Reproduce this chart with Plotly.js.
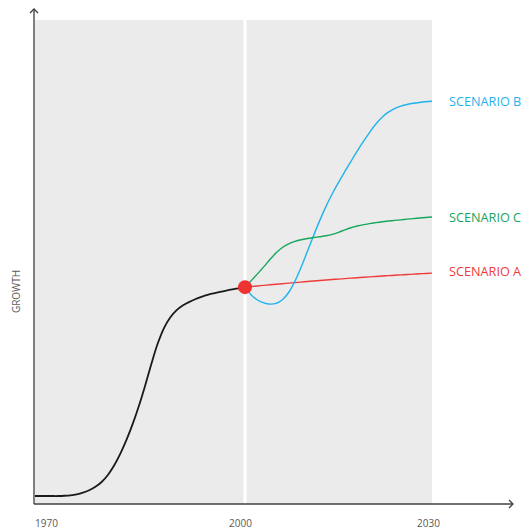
<!DOCTYPE html>
<html><head><meta charset="utf-8">
<script src="https://cdn.plot.ly/plotly-3.0.1.min.js"></script>
<style>html,body{margin:0;padding:0;background:#fff}#chart{width:531px;height:530px}</style>
</head><body><div id="chart"></div>
<script>
// ---- data ----
const histYears  = [1966,1967,1968,1969,1970,1971,1972,1973,1974,1975,1976,1977,1978,1979,1980,1981,1982,1983,1984,1985,1986,1987,1988,1989,1990,1991,1992,1993,1994,1995,1996,1997,1998,1999,2000];
const histValues = [1.65,1.65,1.65,1.65,1.65,1.70,1.80,2.00,2.35,2.85,3.55,4.55,6.00,7.95,10.40,13.30,16.60,20.35,24.55,29.05,33.15,36.35,38.55,40.00,41.00,41.72,42.30,42.78,43.20,43.54,43.84,44.11,44.35,44.57,44.8];
const scenYears  = [2000,2001,2002,2003,2004,2005,2006,2007,2008,2009,2010,2011,2012,2013,2014,2015,2016,2017,2018,2019,2020,2021,2022,2023,2024,2025,2026,2027,2028,2029,2030];
const scenarioA  = [44.8,44.93,45.05,45.17,45.29,45.41,45.52,45.63,45.74,45.85,45.96,46.07,46.17,46.27,46.37,46.47,46.56,46.66,46.75,46.84,46.93,47.01,47.10,47.18,47.26,47.34,47.41,47.49,47.56,47.63,47.70];
const scenarioB  = [44.8,43.2,42.15,41.55,41.3,41.45,42.2,43.7,46.0,48.9,52.15,55.45,58.6,61.5,64.1,66.45,68.65,70.8,72.9,74.9,76.8,78.5,79.9,80.95,81.7,82.2,82.55,82.8,82.97,83.1,83.2];
const scenarioC  = [44.8,46.15,47.55,49.0,50.5,51.9,53.0,53.75,54.25,54.6,54.85,55.05,55.23,55.43,55.71,56.13,56.63,57.08,57.43,57.71,57.93,58.13,58.31,58.46,58.59,58.71,58.85,58.97,59.08,59.2,59.3];
const scenarioNames = ['SCENARIO A','SCENARIO B','SCENARIO C'];
const tickYears  = [1970,2000,2030];
const tickLabels = ['1970','2000','2030'];
const pivotYear = 2000, pivotValue = 44.8;
const yTitle = 'GROWTH';

// ---- styles ----
const colors = ['#ef3b3b','#1fb3ee','#17a65e'];
const labelYShift = [2,0,0];
const tickXShift = [-11.5,-5,-4];
const font = 'Open Sans, Segoe UI, sans-serif';

const series = [scenarioA, scenarioB, scenarioC];
const traces = [{
  x: histYears, y: histValues, mode: 'lines', type: 'scatter',
  line: {color: '#1a1a1a', width: 1.8, shape: 'spline', smoothing: 1},
  hoverinfo: 'skip', showlegend: false
}];
series.forEach((s, i) => traces.push({
  x: scenYears, y: s, mode: 'lines', type: 'scatter',
  line: {color: colors[i], width: 1.4, shape: 'spline', smoothing: 1},
  hoverinfo: 'skip', showlegend: false
}));
traces.push({x: [pivotYear], y: [pivotValue], mode: 'markers', type: 'scatter',
  marker: {color: '#ee3333', size: 14}, showlegend: false, hoverinfo: 'skip', cliponaxis: false});

const annotations = [];
series.forEach((s, i) => annotations.push({
  x: scenYears[scenYears.length-1], y: s[s.length-1], xref: 'x', yref: 'y',
  text: scenarioNames[i], showarrow: false, xanchor: 'left', yanchor: 'middle',
  xshift: 15, yshift: labelYShift[i], font: {family: font, size: 12.7, color: colors[i]}
}));
tickLabels.forEach((t, i) => annotations.push({
  x: tickYears[i], y: -0.04, xref: 'x', yref: 'paper', text: t, showarrow: false,
  xanchor: 'center', yanchor: 'middle', xshift: tickXShift[i],
  font: {family: font, size: 10, color: '#595959'}
}));
annotations.push({x: -0.045, y: 0.438, xref: 'paper', yref: 'paper', text: yTitle,
  showarrow: false, textangle: -90, xanchor: 'center', yanchor: 'middle',
  font: {family: font, size: 10, color: '#595959'}});

const shapes = [
  {type: 'line', xref: 'x', yref: 'paper', x0: pivotYear, x1: pivotYear, y0: 0, y1: 1,
   line: {color: '#ffffff', width: 3}, layer: 'below'},
  // y axis with arrow
  {type: 'line', xref: 'paper', yref: 'paper', x0: 0, x1: 0, y0: 0, y1: 1.0227,
   line: {color: '#7f7f7f', width: 2}},
  {type: 'path', xref: 'paper', yref: 'paper', path: 'M -0.01005 1.0145 L 0 1.0227 L 0.01005 1.0145',
   line: {color: '#404040', width: 1.3}},
  // x axis with arrow
  {type: 'line', xref: 'paper', yref: 'paper', x0: 0, x1: 1.2035, y0: 0, y1: 0,
   line: {color: '#404040', width: 1.5}},
  {type: 'path', xref: 'paper', yref: 'paper', path: 'M 1.1935 0.00826 L 1.2035 0 L 1.1935 -0.00826',
   line: {color: '#404040', width: 1.3}}
];

const layout = {
  width: 531, height: 530,
  margin: {l: 34, r: 99, t: 20, b: 26},
  paper_bgcolor: '#ffffff', plot_bgcolor: '#ebebeb',
  xaxis: {range: [1966.15, 2030], showgrid: false, zeroline: false, showticklabels: false, showline: false, ticks: ''},
  yaxis: {range: [0, 100], showgrid: false, zeroline: false, showticklabels: false, showline: false, ticks: ''},
  shapes: shapes, annotations: annotations, showlegend: false,
  font: {family: font}
};
Plotly.newPlot('chart', traces, layout, {displayModeBar: false, staticPlot: true});
</script></body></html>
